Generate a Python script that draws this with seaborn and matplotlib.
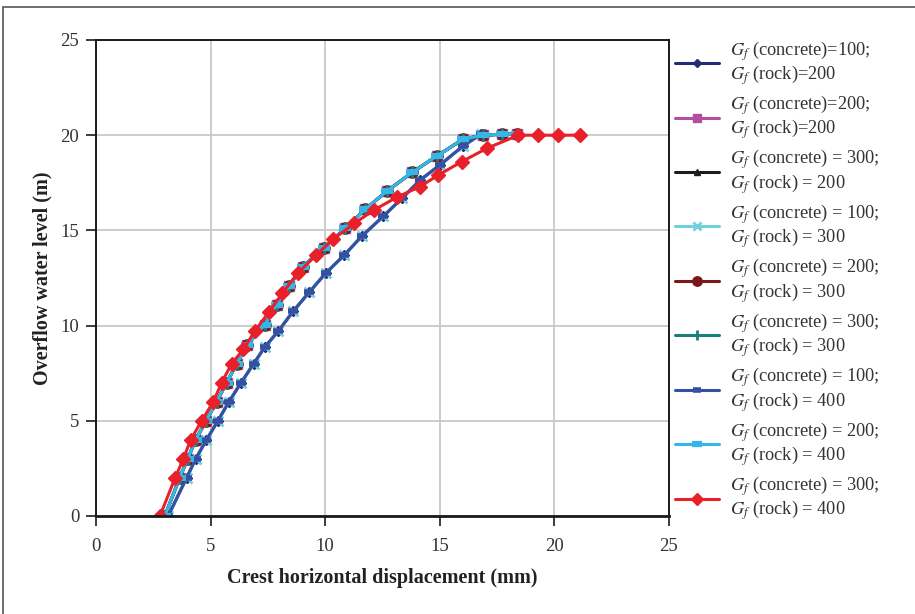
import matplotlib
matplotlib.use("Agg")
import matplotlib.pyplot as plt
import seaborn as sns
import pandas as pd
from matplotlib.patches import Rectangle

# ---- data ----
# concrete = 100 group (right-hand curve)
x_c100 = [3.15, 3.95, 4.35, 4.82, 5.32, 5.80, 6.33, 6.88, 7.38, 7.95, 8.60, 9.30,
          10.02, 10.83, 11.60, 12.54, 13.36, 14.15, 15.00, 16.03, 16.80]
y_c100 = [0, 2, 3, 4, 5, 6, 7, 8, 8.9, 9.7, 10.75, 11.75,
          12.75, 13.7, 14.7, 15.75, 16.7, 17.65, 18.43, 19.45, 20.05]
# concrete = 200 group (left-hand curve)
x_c200 = [3.00, 3.65, 4.00, 4.35, 4.80, 5.26, 5.70, 6.14, 6.60, 7.37, 7.88, 8.43,
          9.02, 9.95, 10.86, 11.74, 12.68, 13.80, 14.86, 16.03, 16.90, 17.70, 18.35]
y_c200 = [0, 2, 3, 4, 5, 6, 7, 8, 9.0, 10.05, 11.1, 12.1,
          13.1, 14.1, 15.1, 16.1, 17.05, 18.05, 18.9, 19.8, 20.0, 20.05, 20.05]
# concrete = 300, rock = 400 (red curve)
x_c300r400 = [2.79, 3.45, 3.81, 4.13, 4.61, 5.12, 5.48, 5.92, 6.43, 6.92, 7.55, 8.13,
              8.80, 9.60, 10.36, 11.27, 12.13, 13.12, 14.14, 14.94, 15.96, 17.05,
              18.43, 19.30, 20.17, 21.12]
y_c300r400 = [0, 2, 3, 4, 5, 6, 7, 8, 8.75, 9.7, 10.72, 11.7,
              12.75, 13.7, 14.55, 15.37, 16.07, 16.74, 17.3, 17.91, 18.61, 19.31,
              20.0, 20.0, 20.0, 20.0]

labels = [
    r"$G_f$ (concrete)=100;" "\n" r"$G_f$ (rock)=200",
    r"$G_f$ (concrete)=200;" "\n" r"$G_f$ (rock)=200",
    r"$G_f$ (concrete) = 300;" "\n" r"$G_f$ (rock) = 200",
    r"$G_f$ (concrete) = 100;" "\n" r"$G_f$ (rock) = 300",
    r"$G_f$ (concrete) = 200;" "\n" r"$G_f$ (rock) = 300",
    r"$G_f$ (concrete) = 300;" "\n" r"$G_f$ (rock) = 300",
    r"$G_f$ (concrete) = 100;" "\n" r"$G_f$ (rock) = 400",
    r"$G_f$ (concrete) = 200;" "\n" r"$G_f$ (rock) = 400",
    r"$G_f$ (concrete) = 300;" "\n" r"$G_f$ (rock) = 400",
]
series_x = [x_c100, x_c200, x_c200, x_c100, x_c200, x_c200, x_c100, x_c200, x_c300r400]
series_y = [y_c100, y_c200, y_c200, y_c100, y_c200, y_c200, y_c100, y_c200, y_c300r400]

x_ticks = [0, 5, 10, 15, 20, 25]
y_ticks = [0, 5, 10, 15, 20, 25]

# ---- styles ----
styles = [
    dict(color="#232a78", marker="D", ms=5, mew=1),
    dict(color="#b24fa3", marker="s", ms=6.5, mew=1),
    dict(color="#1c1c1c", marker="^", ms=5.5, mew=1),
    dict(color="#72d0dc", marker="x", ms=7, mew=2.0),
    dict(color="#7b1718", marker="o", ms=8, mew=1),
    dict(color="#17807a", marker="+", ms=8, mew=2),
    dict(color="#3550a3", marker="_", ms=6.5, mew=4),
    dict(color="#34b6e6", marker="_", ms=9, mew=4.5),
    dict(color="#e8202a", marker="D", ms=7.5, mew=1),
]

sns.set_theme(style="white")
plt.rcParams["font.family"] = ["Liberation Serif", "DejaVu Serif"]
plt.rcParams["mathtext.fontset"] = "stix"

fig = plt.figure(figsize=(9.15, 6.14), dpi=100)
ax = fig.add_axes([96 / 915, 1 - 516 / 614, (669 - 96) / 915, (516 - 40) / 614])

for xs, ys, lab, st in zip(series_x, series_y, labels, styles):
    df = pd.DataFrame({"x": xs, "y": ys})
    sns.lineplot(data=df, x="x", y="y", ax=ax, sort=False, estimator=None,
                 color=st["color"], marker=st["marker"], markersize=st["ms"],
                 markeredgewidth=st["mew"], markeredgecolor=st["color"],
                 linewidth=2.2, label=lab)

ax.set_xlim(0, 25)
ax.set_ylim(0, 25)
ax.set_xticks(x_ticks)
ax.set_yticks(y_ticks)
ax.grid(True, color="#c8c8c8", linewidth=1.3)
ax.set_axisbelow(True)
for side, sp in ax.spines.items():
    sp.set_color("#1a1a1a")
    sp.set_linewidth(1.4)
ax.spines["bottom"].set_linewidth(2.0)
ax.tick_params(axis="both", which="both", direction="out", length=7, width=1.2,
               colors="#1a1a1a", labelsize=13.5, labelcolor="#333333",
               bottom=True, left=True, pad=5)
ax.tick_params(axis="x", pad=9)
ax.set_xlabel("Crest horizontal displacement (mm)", fontsize=14.5, fontweight="bold",
              color="#222222", labelpad=9)
ax.set_ylabel("Overflow water level (m)", fontsize=14.5, fontweight="bold",
              color="#222222", labelpad=6)

leg = ax.legend(loc="upper left", bbox_to_anchor=(675 / 915, 1 - 39 / 614),
                bbox_transform=fig.transFigure, frameon=False,
                fontsize=13.2, handlelength=2.4, handletextpad=0.6,
                labelspacing=0.35, borderaxespad=0, borderpad=0, markerscale=0.85)
for t in leg.get_texts():
    t.set_color("#333333")
    t.set_linespacing(1.05)

fig.patches.append(Rectangle((3 / 915, -0.1), 1.2, 1 - 7 / 614 + 0.1,
                             transform=fig.transFigure, fill=False,
                             edgecolor="#555555", linewidth=1.2))

fig.savefig("out.png", dpi=100)
